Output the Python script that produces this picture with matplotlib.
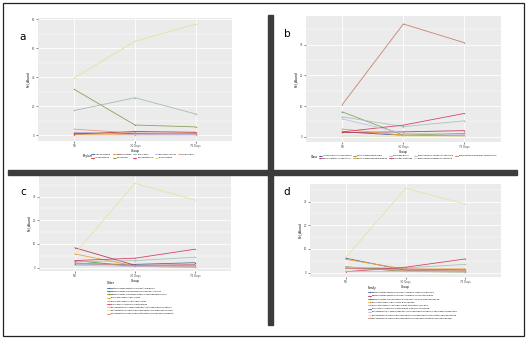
import matplotlib
matplotlib.use("Agg")
import matplotlib.pyplot as plt
from matplotlib.patches import Rectangle
from matplotlib.lines import Line2D

W, H = 528, 339

groups = ["NB", "30 Days", "75 Days"]
palette = ["#4A6FA5", "#B8405A", "#6E9A48", "#EFA23A", "#A8C4BE",
           "#D8456E", "#C4BAE8", "#E6E2A6", "#D9917A"]
markers = ["o", "^", "s", "o", "s", "^", "v", "o", "v"]

# panel a: Phylum
phylum_names = ["Actinobacteria", "Acidobacteria", "Bacteroidetes", "Chloroflexi",
                "Firmicutes", "Proteobacteria", "Planctomycetes", "Fusobacteria",
                "Tenericutes"]
phylum_colors = ["#4A6FA5", "#C0392B", "#EFA23A", "#8DA05A", "#A3BDB5",
                 "#D1335B", "#C5B9E6", "#E3E29C", "#E59C83"]
phylum_vals = [[1.8, 0.8, 0.6], [0.7, 2.5, 2.0], [0.3, 0.2, 0.2],
               [31.5, 7.0, 5.7], [17.0, 25.8, 14.6], [1.0, 1.2, 1.2],
               [2.0, 0.5, 0.5], [39.5, 64.6, 76.5], [4.1, 1.5, 1.0]]

# panel b: Class
class_names = ["Actinobacteria.Actinobacteria", "Bacteroidetes.Flavobacteriia",
               "Bacteroidetes.Bacteroidia", "Bacteroidetes.Sphingobacteriia",
               "Firmicutes.Bacilli", "Firmicutes.Clostridia",
               "Proteobacteria.Alphaproteobacteria", "Proteobacteria.Betaproteobacteria",
               "Proteobacteria.Gammaproteobacteria"]
class_colors = ["#3F5F9A", "#C04060", "#7FA860", "#EFA23A", "#A8C4BE",
                "#D8456E", "#C4BAE8", "#E6E2A6", "#C8826E"]
class_vals = [[1.6, 0.5, 0.3], [1.4, 1.6, 2.0], [8.1, 0.5, 1.1],
              [2.5, 0.5, 0.5], [6.5, 3.3, 5.2], [1.6, 3.8, 7.6],
              [5.8, 1.1, 0.8], [0.3, 0.2, 0.2], [10.5, 36.7, 30.6]]

# panel c: Order
order_names = ["Bacteroidetes.Bacteroidia.Bacteroidales",
               "Bacteroidetes.Flavobacteriia.Flavobacteriales",
               "Bacteroidetes.Sphingobacteriia.Sphingobacteriales",
               "Firmicutes.Bacilli.Bacillales",
               "Firmicutes.Bacilli.Lactobacillales",
               "Firmicutes.Clostridia.Clostridiales",
               "Proteobacteria.Alphaproteobacteria.Sphingomonadales",
               "Proteobacteria.Gammaproteobacteria.Enterobacteriales",
               "Proteobacteria.Gammaproteobacteria.Pseudomonadales"]
order_vals = [[1.6, 1.4, 2.1], [8.4, 1.0, 1.2], [3.0, 0.5, 0.3],
              [5.8, 0.7, 0.3], [2.5, 3.0, 4.4], [3.0, 4.0, 7.8],
              [1.0, 0.5, 0.3], [6.1, 35.6, 28.6], [2.0, 0.8, 1.0]]

# panel d: Family
family_names = ["Bacteroidetes.Bacteroidia.Bacteroidales.Bacteroidaceae",
                "Bacteroidetes.Bacteroidia.Bacteroidales.Prevotellaceae",
                "Bacteroidetes.Flavobacteriia.Flavobacteriales.Weeksellaceae",
                "Firmicutes.Bacilli.Bacillales.Bacillaceae",
                "Firmicutes.Bacilli.Lactobacillales.Streptococcaceae",
                "Firmicutes.Clostridia.Clostridiales.Ruminococcaceae",
                "Proteobacteria.Alphaproteobacteria.Sphingomonadales.Sphingomonadaceae",
                "Proteobacteria.Gammaproteobacteria.Enterobacteriales.Enterobacteriaceae",
                "Proteobacteria.Gammaproteobacteria.Pseudomonadales.Moraxellaceae"]
family_vals = [[6.1, 1.0, 0.5], [1.9, 1.5, 1.2], [2.5, 0.5, 0.3],
               [5.6, 1.5, 1.6], [2.2, 2.0, 3.5], [0.4, 2.3, 5.8],
               [0.6, 0.5, 0.4], [6.5, 35.6, 28.9], [1.8, 1.0, 1.0]]


def box(x0, y0, x1, y1):
    # pixel box (top-left origin) -> figure fraction rect
    return [x0 / W, 1 - y1 / H, (x1 - x0) / W, (y1 - y0) / H]


fig = plt.figure(figsize=(W / 100, H / 100), dpi=100)
fig.patch.set_facecolor("white")

# frame and divider bars
fig.patches.append(Rectangle((3 / W, 1 - 336 / H), 521 / W, 333 / H, fill=False,
                             edgecolor="#222222", lw=0.9, transform=fig.transFigure))
fig.patches.append(Rectangle((268 / W, 1 - 325 / H), 4.5 / W, 310 / H,
                             color="#3C3C3C", transform=fig.transFigure))
fig.patches.append(Rectangle((8 / W, 1 - 175 / H), 509 / W, 5 / H,
                             color="#3C3C3C", transform=fig.transFigure))

panels = [
    ("a", box(38, 18.3, 232, 140.7), phylum_names, phylum_colors, phylum_vals,
     (-3.8, 80.5), [0, 20, 40, 60, 80], (23, 37)),
    ("b", box(305.7, 16, 501, 141.7), class_names, class_colors, class_vals,
     (-1.6, 39.3), [0, 10, 20, 30], (287, 34)),
    ("c", box(39, 176, 231, 271), order_names, palette, order_vals,
     (-1.4, 38.7), [0, 10, 20, 30], (23, 192)),
    ("d", box(310, 184, 501.3, 276.7), family_names, palette, family_vals,
     (-1.7, 37.4), [0, 10, 20, 30], (287, 192)),
]

for letter, rect, names, colors, vals, ylim, yt, lpos in panels:
    ax = fig.add_axes(rect)
    ax.set_facecolor("#EBEBEB")
    for s in ax.spines.values():
        s.set_visible(False)
    ax.set_xlim(0.4, 3.6)
    ax.set_ylim(*ylim)
    ax.set_xticks([1, 2, 3])
    ax.set_xticklabels(groups)
    ax.set_yticks(yt)
    step = yt[1] - yt[0]
    ax.set_yticks([v + step / 2 for v in yt if v + step / 2 < ylim[1]], minor=True)
    ax.grid(True, which="major", color="white", lw=0.6)
    ax.grid(True, which="minor", axis="y", color="white", lw=0.3)
    ax.set_axisbelow(True)
    ax.tick_params(which="major", length=1.2, width=0.4, color="#333333",
                   labelsize=1.9, labelcolor="#4D4D4D", pad=1)
    ax.tick_params(which="minor", length=0)
    ax.set_xlabel("Group", fontsize=2.2, labelpad=0.6)
    ax.set_ylabel("Rel_Abund", fontsize=2.2, labelpad=1)
    for i, (n, c, v) in enumerate(zip(names, colors, vals)):
        ax.plot([1, 2, 3], v, color=c, lw=0.6, marker=markers[i], ms=1.0,
                mew=0, label=n)
    fig.text(lpos[0] / W, 1 - lpos[1] / H, letter, fontsize=7.5,
             ha="center", va="center")


# legends
def handles(colors):
    return [Line2D([0], [0], color=c, lw=0.6, marker=markers[i], ms=1.0, mew=0)
            for i, c in enumerate(colors)]


leg_kw = dict(frameon=False, handletextpad=0.4, borderpad=0, labelspacing=0.75)

fig.text(83 / W, 1 - 156 / H, "Phylum", fontsize=2.0, va="center")
fig.legend(handles(phylum_colors), phylum_names, ncol=5, fontsize=1.6,
           handlelength=1.4, loc="center left",
           bbox_to_anchor=(90 / W, 1 - 156 / H), columnspacing=0.6, **leg_kw)

fig.text(311 / W, 1 - 157 / H, "Class", fontsize=2.0, va="center")
fig.legend(handles(class_colors), class_names, ncol=5, fontsize=1.45,
           handlelength=1.4, loc="center left",
           bbox_to_anchor=(318 / W, 1 - 157 / H), columnspacing=0.5, **leg_kw)

fig.text(107 / W, 1 - 283.5 / H, "Order", fontsize=2.0, va="center")
fig.legend(handles(palette), order_names, ncol=1, fontsize=1.6,
           handlelength=1.4, loc="upper left",
           bbox_to_anchor=(106 / W, 1 - 286 / H), **leg_kw)

fig.text(368 / W, 1 - 287.5 / H, "Family", fontsize=2.0, va="center")
fig.legend(handles(palette), family_names, ncol=1, fontsize=1.6,
           handlelength=1.4, loc="upper left",
           bbox_to_anchor=(367 / W, 1 - 290.5 / H), **leg_kw)

fig.savefig("out.png", dpi=100)
